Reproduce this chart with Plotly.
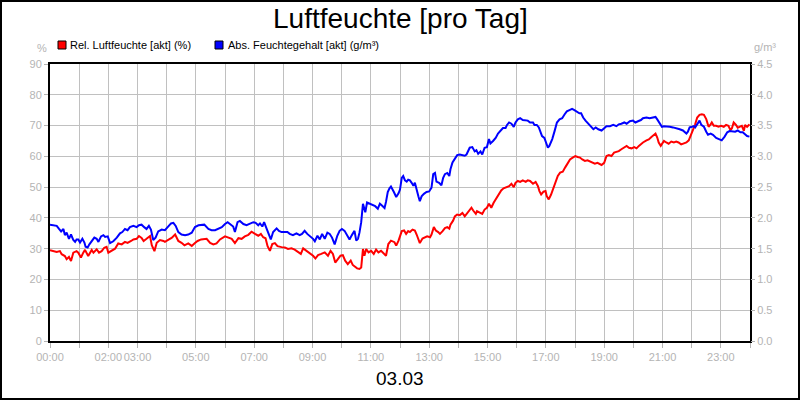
import plotly.graph_objects as go

# ---------------- data ----------------
rel_hours = [
    0.00, 0.11, 0.23, 0.34, 0.40, 0.51, 0.57, 0.65, 0.72, 0.80, 0.91, 0.97, 1.06, 1.14, 1.20, 1.31, 1.37, 1.43, 1.49, 1.60,
    1.68, 1.77, 1.86, 1.94, 2.00, 2.11, 2.23, 2.34, 2.46, 2.57, 2.66, 2.78, 2.86, 2.97, 3.05, 3.14, 3.21, 3.31, 3.43, 3.49,
    3.58, 3.66, 3.77, 3.89, 3.94, 4.08, 4.17, 4.29, 4.40, 4.51, 4.61, 4.74, 4.86, 4.95, 5.06, 5.18, 5.29, 5.37, 5.49, 5.60,
    5.71, 5.83, 6.00, 6.11, 6.23, 6.34, 6.46, 6.57, 6.68, 6.80, 6.91, 7.03, 7.14, 7.23, 7.31, 7.39, 7.46, 7.54, 7.62, 7.71,
    7.80, 7.94, 8.05, 8.16, 8.28, 8.39, 8.51, 8.60, 8.68, 8.79, 8.90, 9.02, 9.10, 9.19, 9.30, 9.42, 9.53, 9.62, 9.70, 9.78,
    9.87, 9.96, 10.04, 10.12, 10.21, 10.31, 10.38, 10.48, 10.53, 10.61, 10.67, 10.73, 10.78, 10.84, 10.92, 11.01, 11.10,
    11.18, 11.26, 11.35, 11.44, 11.52, 11.60, 11.69, 11.81, 11.87, 11.95,
    12.06, 12.14, 12.21, 12.28, 12.34, 12.43, 12.51, 12.57, 12.63, 12.68, 12.77, 12.85, 12.93, 13.03, 13.08, 13.16, 13.23,
    13.31, 13.37, 13.46, 13.54, 13.62, 13.69, 13.73, 13.82, 13.88, 13.96, 14.05, 14.14, 14.22, 14.30, 14.39, 14.45, 14.51,
    14.60, 14.64, 14.73, 14.82, 14.90, 14.98, 15.05, 15.13, 15.21, 15.30, 15.39, 15.47, 15.55, 15.64, 15.74, 15.82, 15.90,
    15.96, 16.04, 16.12, 16.21, 16.31, 16.38, 16.46, 16.56, 16.65, 16.73, 16.78, 16.84, 16.92, 16.99, 17.03, 17.10, 17.18,
    17.26, 17.33, 17.41, 17.49, 17.58, 17.67, 17.75, 17.83, 17.92, 18.01,
    18.09, 18.17, 18.25, 18.34, 18.43, 18.51, 18.59, 18.68, 18.77, 18.85, 18.91, 19.00, 19.08, 19.16, 19.25, 19.34, 19.42,
    19.50, 19.59, 19.69, 19.77, 19.85, 19.94, 20.03, 20.11, 20.19, 20.26, 20.33, 20.45, 20.53, 20.62, 20.71, 20.76, 20.82,
    20.87, 20.94, 20.98, 21.05, 21.13, 21.21, 21.30, 21.39, 21.47, 21.55, 21.64, 21.74, 21.82, 21.90, 21.96, 22.01, 22.08,
    22.12, 22.19, 22.27, 22.35, 22.42, 22.50, 22.58, 22.65, 22.69, 22.76, 22.84, 22.92, 23.01, 23.10, 23.18, 23.26, 23.33,
    23.38, 23.44, 23.52, 23.58, 23.64, 23.72, 23.79, 23.83, 23.90, 23.98,
]
rel_humidity = [
    29.5, 29.2, 28.9, 29.2, 28.2, 27.6, 26.6, 27.3, 26.0, 28.7, 29.2, 28.7, 27.1, 28.7, 29.6, 27.6, 28.7, 29.6, 28.7, 29.8,
    28.7, 29.2, 30.3, 30.6, 28.7, 29.2, 30.0, 31.7, 31.4, 32.2, 31.9, 32.5, 33.0, 33.2, 34.1, 33.5, 32.5, 33.2, 34.1, 31.1,
    29.2, 31.9, 32.8, 32.5, 32.2, 33.0, 33.5, 34.6, 32.5, 31.9, 31.1, 31.7, 30.9, 31.7, 32.5, 33.0, 33.0, 33.2, 31.9, 31.4,
    31.7, 33.0, 34.0, 33.7, 33.2, 31.8, 33.4, 33.2, 34.0, 34.5, 35.5, 34.8, 34.2, 34.8, 33.7, 33.4, 30.8, 29.3, 31.5, 31.8,
    30.8, 30.5, 30.4, 29.9, 30.1, 29.7, 28.8, 28.3, 30.1, 29.3, 28.3, 27.7, 26.8, 27.9, 28.3, 28.8, 27.7, 29.3, 28.3, 25.5,
    26.6, 27.7, 27.9, 26.1, 25.0, 26.1, 24.7, 23.9, 23.6, 23.4, 23.9, 29.9, 27.7, 29.9, 28.8, 29.3, 28.3,
    29.7, 28.8, 29.3, 28.3, 27.7, 31.5, 32.6, 32.1, 31.0, 32.6,
    35.7, 35.9, 34.8, 35.7, 35.4, 36.2, 35.9, 34.6, 32.6, 31.8, 33.3, 33.7, 34.0, 33.7, 34.6, 37.0, 35.9,
    35.4, 34.8, 35.7, 36.7, 37.0, 36.5, 37.8, 39.1, 40.5, 41.1, 40.9, 41.6, 40.5, 41.6, 42.7, 43.3, 42.4,
    41.3, 42.2, 41.6, 41.3, 42.7, 43.3, 44.6, 43.3, 44.9, 46.3, 47.6, 48.9, 49.6, 50.0, 50.3, 51.1, 50.0,
    51.4, 52.0, 51.7, 52.2, 51.7, 52.2, 52.0, 51.1, 51.7, 50.3, 48.7, 47.6, 48.5, 48.7, 47.1, 46.0, 47.6,
    49.8, 51.4, 53.6, 54.7, 55.0, 56.5, 57.9, 59.0, 59.6, 60.1,
    59.8, 59.6, 59.0, 58.5, 58.7, 58.3, 57.9, 57.6, 57.9, 57.4, 57.2, 57.9, 60.1, 60.4, 60.1, 61.2, 61.5,
    61.7, 62.3, 63.0, 63.4, 62.8, 62.6, 63.0, 62.6, 63.4, 64.1, 64.5, 65.2, 65.5, 66.3, 67.0, 67.4, 66.1,
    64.5, 63.4, 63.9, 65.0, 64.5, 64.1, 64.8, 64.5, 64.8, 64.5, 63.9, 64.1, 64.5, 65.2, 66.6, 68.3, 69.3,
    70.4, 72.6, 73.5, 73.7, 73.5, 72.1, 69.6, 70.4, 71.0, 69.9, 69.9, 69.6, 69.9, 69.6, 70.2, 69.9, 68.5,
    69.1, 71.0, 70.2, 69.3, 69.6, 69.9, 68.3, 70.2, 69.6, 70.4,
]

abs_hours = [
    0.00, 0.11, 0.23, 0.31, 0.38, 0.46, 0.51, 0.57, 0.65, 0.72, 0.80, 0.86, 0.91, 0.97, 1.03, 1.11, 1.18, 1.22, 1.29, 1.35,
    1.43, 1.52, 1.60, 1.66, 1.75, 1.83, 1.89, 1.98, 2.06, 2.17, 2.29, 2.40, 2.48, 2.57, 2.66, 2.74, 2.86, 2.97, 3.05, 3.14,
    3.23, 3.31, 3.39, 3.46, 3.54, 3.62, 3.71, 3.83, 3.94, 4.03, 4.15, 4.23, 4.31, 4.40, 4.51, 4.63, 4.74, 4.86, 4.97, 5.09,
    5.20, 5.29, 5.43, 5.54, 5.66, 5.77, 5.89,
    6.00, 6.09, 6.17, 6.28, 6.34, 6.43, 6.51, 6.63, 6.74, 6.85, 6.97, 7.05, 7.14, 7.20, 7.28, 7.34, 7.42, 7.50, 7.57, 7.65,
    7.77, 7.85, 7.94, 8.05, 8.14, 8.22, 8.33, 8.45, 8.56, 8.64, 8.73, 8.82, 8.94, 9.02, 9.08, 9.17, 9.25, 9.33, 9.42, 9.51,
    9.59, 9.67, 9.76, 9.85, 9.93, 10.01, 10.10, 10.19, 10.27, 10.35, 10.44, 10.50, 10.56, 10.61, 10.67, 10.73, 10.81, 10.87,
    10.95, 11.07, 11.15, 11.24, 11.31, 11.38, 11.47, 11.52, 11.58, 11.64, 11.69, 11.79, 11.87, 11.95,
    12.00, 12.06, 12.11, 12.17, 12.23, 12.28, 12.34, 12.40, 12.46, 12.51, 12.57, 12.63, 12.68, 12.74, 12.82, 12.91, 13.00,
    13.08, 13.14, 13.20, 13.25, 13.34, 13.42, 13.48, 13.54, 13.62, 13.69, 13.73, 13.80, 13.88, 13.96, 14.05, 14.14, 14.22,
    14.28, 14.33, 14.39, 14.48, 14.56, 14.62, 14.68, 14.76, 14.82, 14.90, 14.98, 15.05, 15.10, 15.19, 15.28, 15.36, 15.44,
    15.53, 15.62, 15.67, 15.74, 15.82, 15.90, 15.96, 16.04, 16.12, 16.21, 16.31, 16.38, 16.46, 16.56, 16.61, 16.69, 16.76,
    16.81, 16.87, 16.95, 17.01, 17.07, 17.12, 17.22, 17.30, 17.38, 17.47, 17.56, 17.64, 17.72, 17.81, 17.90, 17.98, 18.06,
    18.15,
    18.21, 18.28, 18.36, 18.46, 18.55, 18.63, 18.71, 18.80, 18.91, 19.00, 19.08, 19.20, 19.31, 19.42, 19.50, 19.59, 19.69,
    19.77, 19.88, 19.99, 20.07, 20.16, 20.26, 20.33, 20.45, 20.56, 20.68, 20.76, 20.82, 20.90, 20.98, 21.05, 21.13, 21.25,
    21.36, 21.47, 21.59, 21.70, 21.82, 21.87, 21.93, 22.01, 22.08, 22.12, 22.19, 22.27, 22.33, 22.42, 22.50, 22.56, 22.65,
    22.73, 22.84, 22.95, 23.03, 23.13, 23.22, 23.30, 23.41, 23.49, 23.58, 23.67, 23.75, 23.83, 23.90, 23.98,
]
abs_humidity = [
    1.89, 1.88, 1.87, 1.82, 1.78, 1.82, 1.72, 1.76, 1.66, 1.73, 1.64, 1.61, 1.65, 1.65, 1.60, 1.66, 1.60, 1.53, 1.52, 1.57,
    1.62, 1.68, 1.66, 1.61, 1.70, 1.72, 1.69, 1.70, 1.59, 1.62, 1.68, 1.75, 1.77, 1.82, 1.80, 1.85, 1.87, 1.85, 1.88, 1.89,
    1.85, 1.82, 1.87, 1.81, 1.64, 1.68, 1.78, 1.81, 1.80, 1.85, 1.91, 1.92, 1.87, 1.77, 1.73, 1.72, 1.73, 1.76, 1.85, 1.88,
    1.89, 1.89, 1.82, 1.80, 1.80, 1.82, 1.85,
    1.90, 1.93, 1.90, 1.86, 1.77, 1.93, 1.95, 1.90, 1.88, 1.90, 1.93, 1.92, 1.88, 1.91, 1.86, 1.93, 1.82, 1.71, 1.65, 1.77,
    1.83, 1.79, 1.77, 1.77, 1.77, 1.74, 1.72, 1.75, 1.72, 1.74, 1.79, 1.74, 1.70, 1.66, 1.62, 1.71, 1.65, 1.74, 1.66, 1.76,
    1.74, 1.68, 1.57, 1.71, 1.79, 1.82, 1.79, 1.71, 1.65, 1.72, 1.79, 1.63, 1.66, 1.76, 1.93, 2.23, 2.09, 2.25,
    2.23, 2.21, 2.19, 2.15, 2.23, 2.20, 2.16, 2.26, 2.42, 2.48, 2.51, 2.42, 2.34, 2.40,
    2.46, 2.65, 2.68, 2.61, 2.59, 2.62, 2.61, 2.57, 2.52, 2.57, 2.43, 2.35, 2.27, 2.35, 2.39, 2.42, 2.43,
    2.49, 2.71, 2.73, 2.59, 2.57, 2.53, 2.65, 2.71, 2.73, 2.68, 2.79, 2.90, 2.95, 3.02, 3.03, 3.02, 3.01,
    3.03, 3.09, 3.14, 3.15, 3.08, 3.10, 3.04, 3.08, 3.03, 3.14, 3.15, 3.28, 3.21, 3.25, 3.30, 3.37, 3.41,
    3.46, 3.46, 3.51, 3.55, 3.53, 3.48, 3.55, 3.60, 3.62, 3.59, 3.58, 3.58, 3.55, 3.55, 3.51, 3.51, 3.47,
    3.41, 3.33, 3.30, 3.22, 3.14, 3.17, 3.28, 3.41, 3.55, 3.60, 3.62, 3.68, 3.73, 3.75, 3.77, 3.75, 3.73,
    3.70,
    3.70, 3.63, 3.58, 3.53, 3.49, 3.44, 3.47, 3.44, 3.42, 3.46, 3.49, 3.49, 3.51, 3.49, 3.52, 3.53, 3.55,
    3.53, 3.57, 3.58, 3.55, 3.57, 3.59, 3.62, 3.63, 3.62, 3.63, 3.64, 3.60, 3.53, 3.48, 3.49, 3.49, 3.48,
    3.47, 3.46, 3.44, 3.42, 3.37, 3.40, 3.47, 3.48, 3.49, 3.47, 3.53, 3.58, 3.51, 3.48, 3.40, 3.35, 3.37,
    3.35, 3.30, 3.27, 3.26, 3.32, 3.39, 3.41, 3.41, 3.40, 3.42, 3.39, 3.39, 3.36, 3.33, 3.32,
]

tick_hours = list(range(0, 25))
tick_labels = ["00:00", "", "02:00", "03:00", "", "05:00", "", "07:00", "", "09:00", "", "11:00", "",
               "13:00", "", "15:00", "", "17:00", "", "19:00", "", "21:00", "", "23:00", ""]

title_text = "Luftfeuchte [pro Tag]"
date_text = "03.03"
rel_name = "Rel. Luftfeuchte [akt] (%)"
abs_name = "Abs. Feuchtegehalt [akt] (g/m³)"

# ---------------- figure ----------------
FONT = "Liberation Sans, Arial, sans-serif"
GRAY = "#b4b4b4"
GRID = "#c0c0c0"

W, H = 800, 400
ML, MR, MT, MB = 50, 50, 64, 59
PW, PH = W - ML - MR, H - MT - MB


def px(x):
    return (x - ML) / PW


def py(y):
    return (H - MB - y) / PH


fig = go.Figure()
fig.add_trace(go.Scatter(x=rel_hours, y=rel_humidity, mode="lines", name=rel_name,
                         line=dict(color="#ff0000", width=2), yaxis="y"))
fig.add_trace(go.Scatter(x=abs_hours, y=abs_humidity, mode="lines", name=abs_name,
                         line=dict(color="#0000ff", width=2), yaxis="y2"))

fig.update_layout(
    width=W, height=H,
    margin=dict(l=ML, r=MR, t=MT, b=MB),
    paper_bgcolor="white", plot_bgcolor="white",
    showlegend=False,
    font=dict(family=FONT, size=11, color=GRAY),
    xaxis=dict(range=[0, 24], tickvals=tick_hours, ticktext=tick_labels, tickangle=0,
               showgrid=True, gridcolor=GRID, gridwidth=1,
               ticks="outside", ticklen=5, tickcolor=GRAY,
               showline=True, linecolor="black", linewidth=2, mirror=True,
               zeroline=False, tickfont=dict(size=11, color=GRAY, family=FONT)),
    yaxis=dict(range=[0, 90], dtick=10, tick0=0,
               showgrid=True, gridcolor=GRID, gridwidth=1,
               ticks="outside", ticklen=4, tickcolor=GRAY,
               showline=True, linecolor="black", linewidth=2, mirror=True,
               zeroline=False, tickfont=dict(size=11, color=GRAY, family=FONT)),
    yaxis2=dict(range=[0, 4.5], dtick=0.5, tick0=0, tickformat=".1f",
                overlaying="y", side="right", showgrid=False,
                ticks="outside", ticklen=4, tickcolor=GRAY,
                zeroline=False, tickfont=dict(size=11, color=GRAY, family=FONT)),
)

annotations = [
    dict(text=title_text, x=0.5, y=py(18), xref="paper", yref="paper", showarrow=False,
         xanchor="center", yanchor="middle", font=dict(size=28, color="black", family=FONT)),
    dict(text=date_text, x=0.5, y=py(378), xref="paper", yref="paper", showarrow=False,
         xanchor="center", yanchor="middle", font=dict(size=19, color="black", family=FONT)),
    dict(text="%", x=px(42), y=py(48), xref="paper", yref="paper", showarrow=False,
         xanchor="center", yanchor="middle", font=dict(size=11, color=GRAY, family=FONT)),
    dict(text="g/m³", x=px(765), y=py(47), xref="paper", yref="paper", showarrow=False,
         xanchor="center", yanchor="middle", font=dict(size=11, color=GRAY, family=FONT)),
    dict(text=rel_name, x=px(68), y=py(45), xref="paper", yref="paper", showarrow=False,
         xanchor="left", yanchor="middle", font=dict(size=11, color="black", family=FONT)),
    dict(text=abs_name, x=px(226), y=py(45), xref="paper", yref="paper", showarrow=False,
         xanchor="left", yanchor="middle", font=dict(size=11, color="black", family=FONT)),
]
fig.update_layout(annotations=annotations)

shapes = [
    dict(type="rect", xref="paper", yref="paper", x0=px(58), x1=px(66), y0=py(49), y1=py(41),
         fillcolor="#ff0000", line=dict(color="black", width=1)),
    dict(type="rect", xref="paper", yref="paper", x0=px(215), x1=px(223), y0=py(49), y1=py(41),
         fillcolor="#0000ff", line=dict(color="black", width=1)),
    dict(type="rect", xref="paper", yref="paper", x0=px(1), x1=px(799), y0=py(399), y1=py(1),
         fillcolor="rgba(0,0,0,0)", line=dict(color="black", width=2)),
]
fig.update_layout(shapes=shapes)

fig.write_html("out.html", config={"displayModeBar": False},
               post_script="document.body.style.margin='0';document.body.style.padding='0';")
